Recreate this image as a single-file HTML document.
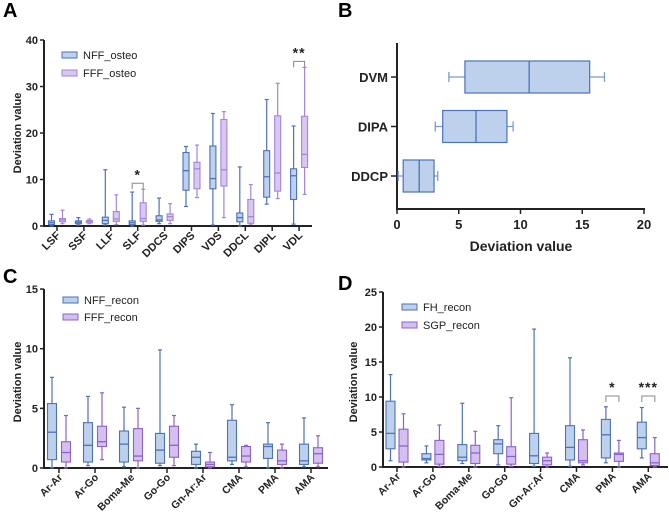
<!DOCTYPE html>
<html><head><meta charset="utf-8">
<style>
html,body{margin:0;padding:0;background:#fff;}
svg{display:block;font-family:"Liberation Sans",Arial,sans-serif;}
</style></head>
<body>
<svg id="fig" width="669" height="514" viewBox="0 0 669 514" xmlns="http://www.w3.org/2000/svg">
<text x="3" y="17" font-size="20" font-weight="bold">A</text>
<text x="338" y="17" font-size="20" font-weight="bold">B</text>
<text x="3" y="283" font-size="20" font-weight="bold">C</text>
<text x="338" y="290" font-size="20" font-weight="bold">D</text>
</svg>
<script>
// ---- Panel A data ----
const catsA = ["LSF","SSF","LLF","SLF","DDCS","DIPS","VDS","DDCL","DIPL","VDL"];
const nffA = [[0,0.3,0.7,1.1,2.5],[0.2,0.5,0.8,1.1,1.8],[0.2,0.5,1.2,1.9,12.1],[0,0.3,0.7,1.1,7.3],[0.5,1.0,1.3,2.2,6.0],[4.2,7.7,11.9,15.8,17.1],[0.2,8.0,10.2,17.2,24.2],[0,0.9,1.8,2.8,12.7],[4.7,6.2,10.6,16.2,27.2],[0.4,5.7,10.8,12.3,21.5]];
const fffA = [[0.5,0.9,1.3,1.6,3.4],[0.5,0.7,1.0,1.2,1.5],[0.3,1.0,1.5,3.1,6.7],[0.2,1.0,1.6,5.0,7.9],[0.5,1.2,2.0,2.6,4.8],[6.1,8.0,12.3,13.7,17.4],[1.8,8.6,12.1,22.9,24.6],[0.4,0.6,2.0,5.7,8.9],[5.9,7.5,11.4,23.7,30.7],[6.8,12.6,15.4,23.6,34.1]];
const ticksA = [0,10,20,30,40];
const sigA = [{i:3,label:"*"},{i:9,label:"**"}];
// ---- Panel B data ----
const catsB = ["DVM","DIPA","DDCP"];
const valsB = [[4.2,5.5,10.7,15.6,16.8],[3.1,3.7,6.4,8.9,9.4],[0.1,0.5,1.8,3.0,3.3]];
const ticksB = [0,5,10,15,20];
// ---- Panel C data ----
const catsCD = ["Ar-Ar","Ar-Go","Boma-Me","Go-Go","Gn-Ar:Ar","CMA","PMA","AMA"];
const nffC = [[0,0.7,3.0,5.4,7.6],[0.2,0.5,1.9,3.8,6.0],[0.1,0.5,2.0,3.1,5.1],[0.2,0.4,1.5,2.9,9.9],[0,0.3,0.9,1.4,2.0],[0.3,0.6,0.9,4.0,5.3],[0,0.8,1.8,2.0,3.8],[0.1,0.3,0.6,2.0,4.2]];
const fffC = [[0,0.5,1.3,2.2,4.4],[0.7,1.8,2.2,3.5,6.3],[0,0.6,1.0,3.3,5.0],[0.2,0.9,1.9,3.5,4.4],[0,0.1,0.3,0.5,1.3],[0.1,0.5,1.0,1.8,1.9],[0,0.3,0.6,1.5,2.0],[0.1,0.4,1.2,1.7,2.7]];
const ticksC = [0,5,10,15];
// ---- Panel D data ----
const fhD = [[0.9,2.6,4.8,9.4,13.2],[0.6,1.0,1.2,1.9,3.0],[0.5,0.9,1.4,3.2,9.1],[0.3,1.9,3.3,3.9,5.9],[0.1,0.5,1.6,4.8,19.7],[0.1,1.0,2.8,5.9,15.6],[0.6,1.3,4.6,6.8,8.6],[1.3,2.6,4.2,6.4,8.5]];
const sgpD = [[0,0.7,3.0,5.4,7.6],[0.1,0.4,1.8,3.8,6.0],[0,0.5,2.0,3.1,5.1],[0.1,0.4,1.5,2.9,9.9],[0,0.3,0.9,1.4,2.0],[0.3,0.6,0.9,3.9,5.3],[0,0.8,1.8,2.0,3.8],[0,0.2,0.6,1.9,4.2]];
const ticksD = [0,5,10,15,20,25];
const sigD = [{i:6,label:"*"},{i:7,label:"***"}];

const NS = "http://www.w3.org/2000/svg";
const svg = document.getElementById("fig");
function mk(tag, attrs, parent){ const e=document.createElementNS(NS,tag); for(const k in attrs) e.setAttribute(k,attrs[k]); (parent||svg).appendChild(e); return e; }
const BLUE={s:"#4d72b6",f:"#bdd0ec"}, PUR={s:"#a386d8",f:"#d8c7ef"}, PUR2={s:"#8c62c8",f:"#d3c0ee"};

function vAxis(x,y0,y1,xEnd,ticks,yS,title,titleY){
  const l=mk("line",{x1:x,y1:y0+1,x2:x,y2:y1,stroke:"#222","stroke-width":2});
   
  const xl=mk("line",{x1:x-1,y1:y0,x2:xEnd,y2:y0,stroke:"#222","stroke-width":2});
   
  ticks.forEach(t=>{
    const tl=mk("line",{x1:x-4,y1:yS(t),x2:x,y2:yS(t),stroke:"#222","stroke-width":1.5});
     
    const tx=mk("text",{x:x-6,y:yS(t)+4,"font-size":11,"font-weight":"bold","text-anchor":"end",fill:"#222"});
    tx.textContent=t;
     
  });
  const tt=mk("text",{x:0,y:0,"font-size":11,"font-weight":"bold","text-anchor":"middle",fill:"#222",transform:`translate(21,${titleY}) rotate(-90)`});
  tt.textContent=title;
   
}
function vBox(cx,w,v,yS,c,name){
  const g=mk("g",{});
   
  mk("line",{x1:cx,y1:yS(v[0]),x2:cx,y2:yS(v[4]),stroke:c.s,"stroke-width":1.2},g);
  mk("line",{x1:cx-2,y1:yS(v[0]),x2:cx+2,y2:yS(v[0]),stroke:c.s,"stroke-width":1.2},g);
  mk("line",{x1:cx-2,y1:yS(v[4]),x2:cx+2,y2:yS(v[4]),stroke:c.s,"stroke-width":1.2},g);
  mk("rect",{x:cx-w/2,y:yS(v[3]),width:w,height:Math.max(0.5,yS(v[1])-yS(v[3])),fill:c.f,stroke:c.s,"stroke-width":1.1},g);
  mk("line",{x1:cx-w/2,y1:yS(v[2]),x2:cx+w/2,y2:yS(v[2]),stroke:c.s,"stroke-width":1.3},g);
}
function xCats(cats,xS,y0,fs){
  cats.forEach((c,i)=>{
    const x=xS(i);
    const tl=mk("line",{x1:x,y1:y0,x2:x,y2:y0+5,stroke:"#222","stroke-width":1.5});
     
    const t=mk("text",{x:0,y:0,"font-size":fs,"font-weight":"bold","text-anchor":"end",fill:"#222",transform:`translate(${x+4},${y0+10}) rotate(-45)`});
    t.textContent=c;
     
  });
}
function legend(x,y,c,label,dy){
  const r=mk("rect",{x:x,y:y-3,width:15,height:6,fill:c.f,stroke:c.s,"stroke-width":1});
   
  const t=mk("text",{x:x+21,y:y+4,"font-size":11,fill:"#222"});
  t.textContent=label;
   
}
function sig(xa,xb,yTop,label){
  const p=mk("path",{d:`M${xa},${yTop+6} V${yTop} H${xb} V${yTop+6}`,fill:"none",stroke:"#888","stroke-width":1});
   
  const t=mk("text",{x:(xa+xb)/2,y:yTop-4,"font-size":14,"font-weight":"bold","text-anchor":"middle","letter-spacing":"1",fill:"#222"});
  t.textContent=label;
   
}

// Panel A
(function(){
  const yS=v=>226-v*4.65, xS=i=>57+i*26.9;
  vAxis(44,226,40,312,ticksA,yS,"Deviation value",133);
  catsA.forEach((c,i)=>{ vBox(xS(i)-5.5,6,nffA[i],yS,BLUE,'box-nff-'+c); vBox(xS(i)+5.5,6,fffA[i],yS,PUR,'box-fff-'+c); });
  xCats(catsA,xS,226,11);
  sigA.forEach(s=>{ const top=Math.max(nffA[s.i][4],fffA[s.i][4]); sig(xS(s.i)-5.5,xS(s.i)+5.5,yS(top)-(s.i===9?6:6),s.label); });
  legend(62,55,BLUE,"NFF_osteo"); legend(62,73,PUR,"FFF_osteo");
})();
// Panel B
(function(){
  const xS=v=>397+v*12.35, yS=i=>77+i*49.5;
  const a=mk("line",{x1:397,y1:43,x2:397,y2:210,stroke:"#222","stroke-width":2});
   
  const b=mk("line",{x1:396,y1:209,x2:645,y2:209,stroke:"#222","stroke-width":2});
   
  ticksB.forEach(t=>{
    const tl=mk("line",{x1:xS(t),y1:209,x2:xS(t),y2:214,stroke:"#222","stroke-width":1.5});
     
    const tx=mk("text",{x:xS(t),y:229,"font-size":13,"font-weight":"bold","text-anchor":"middle",fill:"#222"});
    tx.textContent=t;
     
  });
  const tt=mk("text",{x:521,y:251,"font-size":14,"font-weight":"bold","text-anchor":"middle",fill:"#222"});
  tt.textContent="Deviation value";
   
  catsB.forEach((c,i)=>{
    const y=yS(i), v=valsB[i];
    const tl=mk("line",{x1:391,y1:y,x2:397,y2:y,stroke:"#222","stroke-width":1.5});
     
    const tx=mk("text",{x:388,y:y+5,"font-size":13,"font-weight":"bold","text-anchor":"end",fill:"#222"});
    tx.textContent=c;
     
    const g=mk("g",{});
     
    mk("line",{x1:xS(v[0]),y1:y,x2:xS(v[4]),y2:y,stroke:"#7d9bd0","stroke-width":1.3},g);
    mk("line",{x1:xS(v[0]),y1:y-5,x2:xS(v[0]),y2:y+5,stroke:"#7d9bd0","stroke-width":1.3},g);
    mk("line",{x1:xS(v[4]),y1:y-5,x2:xS(v[4]),y2:y+5,stroke:"#7d9bd0","stroke-width":1.3},g);
    mk("rect",{x:xS(v[1]),y:y-16,width:xS(v[3])-xS(v[1]),height:32,fill:BLUE.f,stroke:BLUE.s,"stroke-width":1.2},g);
    mk("line",{x1:xS(v[2]),y1:y-16,x2:xS(v[2]),y2:y+16,stroke:BLUE.s,"stroke-width":1.3},g);
  });
})();
// Panel C
(function(){
  const yS=v=>468-v*11.93, xS=i=>59+i*36;
  vAxis(44,468,289,328,ticksC,yS,"Deviation value",382);
  catsCD.forEach((c,i)=>{ vBox(xS(i)-7,9,nffC[i],yS,BLUE,'box-nff-'+c); vBox(xS(i)+7,9,fffC[i],yS,PUR2,'box-fff-'+c); });
  xCats(catsCD,xS,468,10.5);
  legend(63,300,BLUE,"NFF_recon"); legend(63,317,PUR2,"FFF_recon");
})();
// Panel D
(function(){
  const yS=v=>467-v*7.0, xS=i=>397+i*35.9;
  vAxis(383,467,292,668,ticksD,yS,"Deviation value",382);
  const tt=svg.lastChild; tt.setAttribute("transform","translate(357,382) rotate(-90)");
  catsCD.forEach((c,i)=>{ vBox(xS(i)-6.5,9,fhD[i],yS,BLUE,'box-fh-'+c); vBox(xS(i)+6.5,9,sgpD[i],yS,PUR2,'box-sgp-'+c); });
  xCats(catsCD,xS,467,10.5);
  sigD.forEach(s=>{ sig(xS(s.i)-6.5,xS(s.i)+6.5,396,s.label); });
  legend(402,307,BLUE,"FH_recon"); legend(402,325,PUR2,"SGP_recon");
})();
</script>
</body></html>
